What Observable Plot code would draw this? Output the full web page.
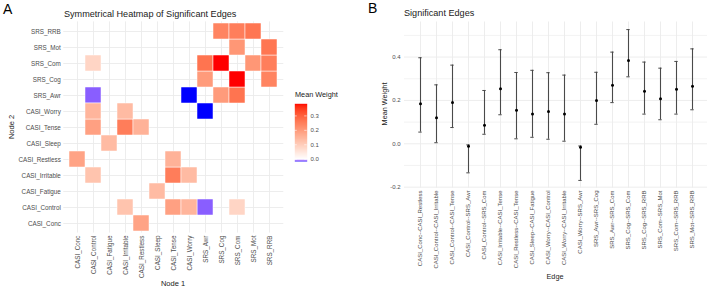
<!DOCTYPE html>
<html>
<head>
<meta charset="utf-8">
<script src="https://cdn.jsdelivr.net/npm/d3@7"></script>
<script src="https://cdn.jsdelivr.net/npm/@observablehq/plot@0.6"></script>
<style>
  body { margin: 0; background: #fff; }
  #fig { position: relative; width: 709px; height: 289px; overflow: hidden;
         font-family: "Liberation Sans", Arial, Helvetica, sans-serif; color: #1a1a1a; }
  .abs { position: absolute; white-space: nowrap; line-height: 1; }
  .abs svg { display: block; }
  .rot { transform: translate(-50%, -50%) rotate(-90deg); }
  .ctr { transform: translate(-50%, -50%); }
</style>
</head>
<body>
<div id="fig"></div>
<script>
// Network nodes, in axis order
const nodes = [
  "CASI_Conc", "CASI_Control", "CASI_Fatigue", "CASI_Irritable", "CASI_Restless",
  "CASI_Sleep", "CASI_Tense", "CASI_Worry", "SRS_Awr", "SRS_Cog", "SRS_Com",
  "SRS_Mot", "SRS_RRB"
];

// Significant edges: mean weight with lower / upper interval bounds
const edgeLabels = [
  "CASI_Conc--CASI_Restless", "CASI_Control--CASI_Irritable", "CASI_Control--CASI_Tense",
  "CASI_Control--SRS_Awr", "CASI_Control--SRS_Com", "CASI_Irritable--CASI_Tense",
  "CASI_Restless--CASI_Tense", "CASI_Sleep--CASI_Fatigue", "CASI_Worry--CASI_Control",
  "CASI_Worry--CASI_Irritable", "CASI_Worry--SRS_Awr", "SRS_Awr--SRS_Cog",
  "SRS_Awr--SRS_Com", "SRS_Cog--SRS_Com", "SRS_Cog--SRS_RRB", "SRS_Com--SRS_Mot",
  "SRS_Com--SRS_RRB", "SRS_Mot--SRS_RRB"
];
const edgeMean = [0.185, 0.120, 0.190, -0.011, 0.085, 0.254, 0.155, 0.138, 0.149,
                  0.137, -0.016, 0.200, 0.270, 0.384, 0.243, 0.208, 0.252, 0.266];
const edgeLow  = [0.054, 0.005, 0.075, -0.134, 0.044, 0.134, 0.023, 0.030, 0.021,
                  0.012, -0.169, 0.090, 0.190, 0.309, 0.137, 0.111, 0.137, 0.157];
const edgeHigh = [0.397, 0.272, 0.363, -0.005, 0.246, 0.434, 0.329, 0.339, 0.328,
                  0.317, -0.010, 0.330, 0.423, 0.527, 0.377, 0.349, 0.380, 0.438];

// Tick values
const legendTicks = [0, 0.1, 0.2, 0.3];
const weightTicks = [-0.2, 0, 0.2, 0.4];
const weightMinorTicks = [-0.1, 0.1, 0.3, 0.5];

const edges = edgeLabels.map((label, i) => {
  const [a, b] = label.split("--");
  return {label, a, b, mean: edgeMean[i], low: edgeLow[i], high: edgeHigh[i]};
});

// Both halves of the symmetric matrix
const cells = edges.flatMap(e => [
  {x: e.a, y: e.b, w: e.mean},
  {x: e.b, y: e.a, w: e.mean}
]);

const [wMin, wMax] = d3.extent(edgeMean);
const colorScale = {
  type: "linear",
  domain: [wMin, 0, wMax],
  range: ["blue", "white", "red"],
  interpolate: "lab"
};

const FONT = '"Liberation Sans", Arial, Helvetica, sans-serif';
const GRID = "#ebebeb";
const TICK = "#4d4d4d";
const BAR = "#4a4a4a";
const fmt1 = d => d.toFixed(1);

const fig = document.getElementById("fig");
function place(node, left, top, cls) {
  const d = document.createElement("div");
  d.className = "abs" + (cls ? " " + cls : "");
  d.style.left = left + "px";
  d.style.top = top + "px";
  if (typeof node === "string") d.textContent = node; else d.appendChild(node);
  fig.appendChild(d);
  return d;
}

// Panel A: heatmap
const heat = Plot.plot({
  width: 290, height: 289,
  marginLeft: 63.3, marginRight: 6.7, marginTop: 21.4, marginBottom: 56.4,
  x: {type: "band", domain: nodes, paddingInner: 0, paddingOuter: 0.1},
  y: {type: "band", domain: nodes.slice().reverse(), paddingInner: 0, paddingOuter: 0.1},
  color: colorScale,
  style: {fontFamily: FONT, background: "transparent", overflow: "visible"},
  marks: [
    Plot.gridX({stroke: GRID, strokeOpacity: 1, strokeWidth: 0.9}),
    Plot.gridY({stroke: GRID, strokeOpacity: 1, strokeWidth: 0.9}),
    Plot.cell(cells, {x: "x", y: "y", fill: "w", stroke: "white", strokeWidth: 0.5, inset: 0}),
    Plot.axisX({tickRotate: -90, tickSize: 0, tickPadding: 2.5, fontSize: 6.3, fill: TICK, label: null}),
    Plot.axisY({tickSize: 0, tickPadding: 3, fontSize: 6.3, fill: TICK, label: null})
  ]
});
place(heat, 0, 0);

// Panel A: colour bar legend
const legend = Plot.plot({
  width: 40, height: 70,
  marginLeft: 4.3, marginRight: 23.3, marginTop: 3.3, marginBottom: 9,
  x: {domain: [0, 1], axis: null},
  y: {domain: [wMin, wMax], axis: null},
  color: colorScale,
  style: {fontFamily: FONT, background: "transparent", overflow: "visible"},
  marks: [
    Plot.raster({x1: 0, x2: 1, y1: wMin, y2: wMax, width: 2, height: 240,
                 fill: (x, y) => y, imageRendering: "auto"}),
    Plot.ruleY(legendTicks, {x1: 0, x2: 0.2, stroke: "white", strokeWidth: 0.6}),
    Plot.ruleY(legendTicks, {x1: 0.8, x2: 1, stroke: "white", strokeWidth: 0.6}),
    Plot.axisY(legendTicks, {anchor: "right", tickSize: 0, tickPadding: 3.3, fontSize: 6,
                             fill: TICK, tickFormat: fmt1, label: null})
  ]
});
place(legend, 290, 100);

// Panel B: mean weights with intervals
const errs = Plot.plot({
  width: 369, height: 289,
  marginLeft: 64, marginRight: 2, marginTop: 21.5, marginBottom: 101.5,
  x: {type: "band", domain: edgeLabels, paddingInner: 0, paddingOuter: 0.1},
  y: {domain: [-0.204, 0.562]},
  style: {fontFamily: FONT, background: "transparent", overflow: "visible"},
  marks: [
    Plot.gridY(weightMinorTicks, {stroke: GRID, strokeOpacity: 1, strokeWidth: 0.6}),
    Plot.gridY(weightTicks, {stroke: GRID, strokeOpacity: 1, strokeWidth: 0.9}),
    Plot.gridX({stroke: GRID, strokeOpacity: 1, strokeWidth: 0.9}),
    Plot.ruleX(edges, {x: "label", y1: "low", y2: "high", stroke: BAR, strokeWidth: 1.1}),
    Plot.tickY(edges, {x: "label", y: "low", insetLeft: 6.3, insetRight: 6.3, stroke: BAR, strokeWidth: 1}),
    Plot.tickY(edges, {x: "label", y: "high", insetLeft: 6.3, insetRight: 6.3, stroke: BAR, strokeWidth: 1}),
    Plot.dot(edges, {x: "label", y: "mean", r: 1.5, fill: "#000", stroke: null}),
    Plot.axisX({tickRotate: -90, tickSize: 0, tickPadding: 2.5, fontSize: 6, fill: TICK, label: null}),
    Plot.axisY(weightTicks, {tickSize: 0, tickPadding: 4, fontSize: 6, fill: TICK,
                             tickFormat: fmt1, label: null})
  ]
});
place(errs, 340, 0);

// Titles and axis titles
const tag = (t, x, y) => { const d = place(t, x, y); d.style.fontSize = "14px"; d.style.color = "#000"; };
tag("A", 3, 2);
tag("B", 368, 1);

const t1 = place("Symmetrical Heatmap of Significant Edges", 64, 9.5);
t1.style.fontSize = "9.1px";
const t2 = place("Significant Edges", 404, 8.5);
t2.style.fontSize = "9.1px";

const axTitle = (t, x, y, cls, size) => { const d = place(t, x, y, cls); d.style.fontSize = size + "px"; };
axTitle("Node 2", 12, 127, "rot", 7.5);
axTitle("Node 1", 173, 284, "ctr", 7.5);
axTitle("Mean Weight", 385, 104, "rot", 7.3);
axTitle("Edge", 555, 277, "ctr", 7.3);

const lt = place("Mean Weight", 295, 91);
lt.style.fontSize = "7.3px";
</script>
</body>
</html>
